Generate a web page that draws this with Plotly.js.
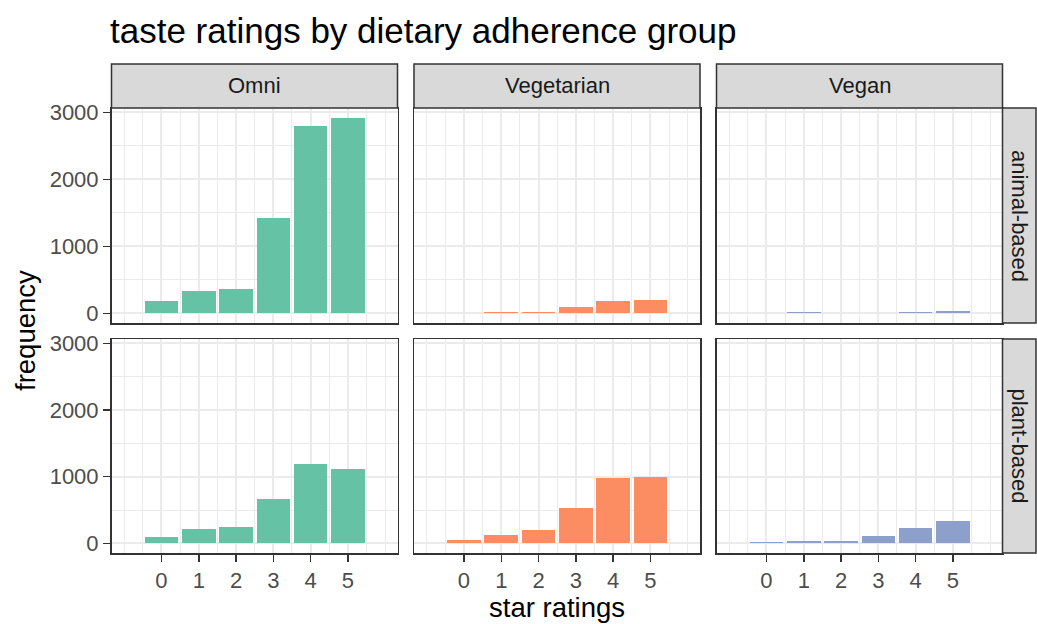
<!DOCTYPE html>
<html>
<head>
<meta charset="utf-8">
<script src="https://cdn.plot.ly/plotly-3.0.1.min.js"></script>
<style>html,body{margin:0;padding:0;background:#fff;}#chart{width:1037px;height:624px;}</style>
</head>
<body>
<div id="chart"></div>
<script>
// ---- data ----
const ratings = [0, 1, 2, 3, 4, 5];
const groups = ["Omni", "Vegetarian", "Vegan"];
const recipeTypes = ["animal-based", "plant-based"];
const groupColors = ["#66c2a5", "#fc8d62", "#8da0cb"];
const omniAnimal = [190, 330, 365, 1420, 2800, 2910];
const vegetarianAnimal = [0, 15, 15, 95, 185, 205];
const veganAnimal = [0, 15, 0, 0, 15, 30];
const omniPlant = [100, 209, 238, 666, 1197, 1118];
const vegetarianPlant = [55, 129, 194, 526, 973, 998];
const veganPlant = [20, 40, 35, 114, 224, 338];
const yTicks = [0, 1000, 2000, 3000];
const yMinor = [500, 1500, 2500];
const xMinor = [-1, -0.5, 0.5, 1.5, 2.5, 3.5, 4.5, 5.5, 6];

const series = [
  [omniAnimal, vegetarianAnimal, veganAnimal],
  [omniPlant, vegetarianPlant, veganPlant]
];

// ---- layout geometry (pixels) ----
const W = 1037, H = 624;
const px = x => x / W;
const py = y => 1 - y / H;
const colsPx = [[111.5, 397.5], [414, 700], [716.5, 1002.5]];
const rowsPx = [[108, 323], [339, 553]];
const FONT = "Liberation Sans, Arial, Helvetica, sans-serif";

const traces = [];
const layout = {
  width: W, height: H,
  margin: {l: 0, r: 0, t: 0, b: 0},
  paper_bgcolor: "#ffffff",
  plot_bgcolor: "#ffffff",
  showlegend: false,
  bargap: 0,
  font: {family: FONT, color: "#4d4d4d"},
  title: {
    text: "taste ratings by dietary adherence group",
    x: px(110), xanchor: "left", xref: "paper",
    y: py(31), yanchor: "middle", yref: "paper",
    font: {family: FONT, size: 35, color: "#000000"}
  },
  shapes: [],
  annotations: []
};

for (let r = 0; r < 2; r++) {
  for (let c = 0; c < 3; c++) {
    const idx = r * 3 + c + 1;
    const xa = "x" + (idx > 1 ? idx : "");
    const ya = "y" + (idx > 1 ? idx : "");
    traces.push({
      type: "bar",
      x: ratings,
      y: series[r][c],
      width: 0.9,
      xaxis: xa, yaxis: ya,
      marker: {color: groupColors[c], line: {width: 0}},
      hoverinfo: "skip"
    });
    const bottomRow = r === 1;
    const leftCol = c === 0;
    layout["xaxis" + (idx > 1 ? idx : "")] = {
      domain: [px(colsPx[c][0]), px(colsPx[c][1])],
      anchor: ya,
      range: [-1.34, 6.33],
      tickmode: "array",
      tickvals: ratings,
      ticktext: ratings.map(String),
      showticklabels: bottomRow,
      ticks: bottomRow ? "outside" : "",
      ticklen: 7, tickwidth: 1.5, tickcolor: "#333333",
      tickfont: {family: FONT, size: 22, color: "#4d4d4d"},
      showgrid: true, gridcolor: "#ebebeb", gridwidth: 2,
      minor: {tickmode: "array", tickvals: xMinor, showgrid: true, gridcolor: "#ebebeb", gridwidth: 1, ticks: ""},
      zeroline: false,
      showline: true, mirror: true, linecolor: "#333333", linewidth: 1.5,
      fixedrange: true
    };
    layout["yaxis" + (idx > 1 ? idx : "")] = {
      domain: [py(rowsPx[r][1]), py(rowsPx[r][0])],
      anchor: xa,
      range: [-145, 3065],
      tickmode: "array",
      tickvals: yTicks,
      ticktext: yTicks.map(String),
      showticklabels: leftCol,
      ticks: leftCol ? "outside" : "",
      ticklen: 7, tickwidth: 1.5, tickcolor: "#333333",
      tickfont: {family: FONT, size: 22, color: "#4d4d4d"},
      showgrid: true, gridcolor: "#ebebeb", gridwidth: 2,
      minor: {tickmode: "array", tickvals: yMinor, showgrid: true, gridcolor: "#ebebeb", gridwidth: 1, ticks: ""},
      zeroline: false,
      showline: true, mirror: true, linecolor: "#333333", linewidth: 1.5,
      fixedrange: true
    };
  }
}

// top strips
groups.forEach((g, c) => {
  layout.shapes.push({
    type: "rect", xref: "paper", yref: "paper",
    x0: px(colsPx[c][0]), x1: px(colsPx[c][1]),
    y0: py(108), y1: py(64),
    fillcolor: "#d9d9d9", line: {color: "#333333", width: 1.5}
  });
  layout.annotations.push({
    text: g, xref: "paper", yref: "paper",
    x: px((colsPx[c][0] + colsPx[c][1]) / 2), y: py(86),
    xanchor: "center", yanchor: "middle", showarrow: false,
    font: {family: FONT, size: 22, color: "#1a1a1a"}
  });
});
// right strips
recipeTypes.forEach((t, r) => {
  layout.shapes.push({
    type: "rect", xref: "paper", yref: "paper",
    x0: px(1002.5), x1: px(1036),
    y0: py(rowsPx[r][1]), y1: py(rowsPx[r][0]),
    fillcolor: "#d9d9d9", line: {color: "#333333", width: 1.5}
  });
  layout.annotations.push({
    text: t, xref: "paper", yref: "paper",
    x: px(1019.5), y: py((rowsPx[r][0] + rowsPx[r][1]) / 2),
    xanchor: "center", yanchor: "middle", showarrow: false, textangle: 90,
    font: {family: FONT, size: 22, color: "#1a1a1a"}
  });
});
// axis titles
layout.annotations.push({
  text: "star ratings", xref: "paper", yref: "paper",
  x: px(557), y: py(607), xanchor: "center", yanchor: "middle", showarrow: false,
  font: {family: FONT, size: 27.5, color: "#000000"}
});
layout.annotations.push({
  text: "frequency", xref: "paper", yref: "paper",
  x: px(25), y: py(331), xanchor: "center", yanchor: "middle", showarrow: false, textangle: -90,
  font: {family: FONT, size: 27.5, color: "#000000"}
});

Plotly.newPlot("chart", traces, layout, {displayModeBar: false, staticPlot: true});
</script>
</body>
</html>
